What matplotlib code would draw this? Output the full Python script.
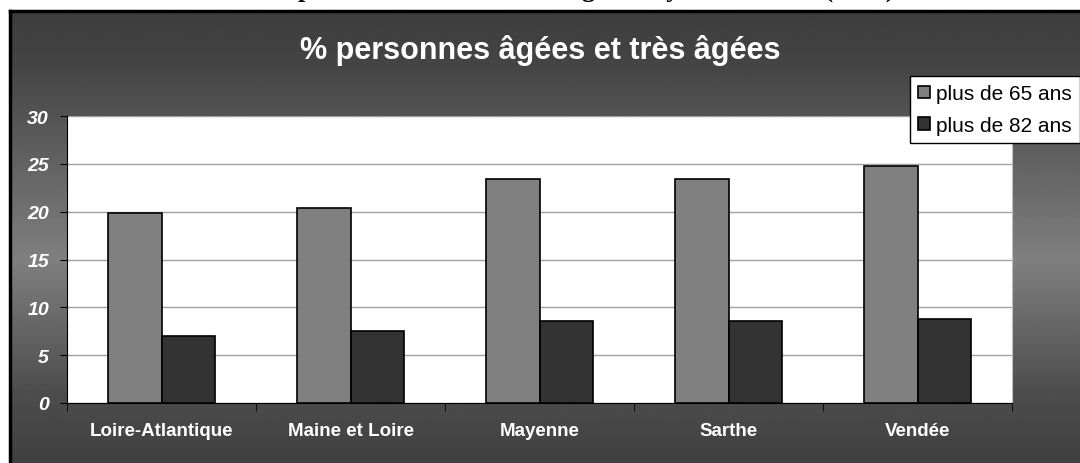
import matplotlib.pyplot as plt
import numpy as np

departements = ["Loire-Atlantique", "Maine et Loire", "Mayenne", "Sarthe", "Vendée"]
plus_65 = [19.9, 20.4, 23.4, 23.4, 24.8]
plus_82 = [7.0, 7.5, 8.6, 8.6, 8.8]
series = ["plus de 65 ans", "plus de 82 ans"]

W, H = 1080, 464
fig = plt.figure(figsize=(W / 100, H / 100), dpi=100)
fig.patch.set_facecolor("white")

# document title above the chart frame, cut off by the top edge in the source
fig.text(895 / W, 1 + 3 / H, "Le poids des aînés dans la région Pays de la Loire (2006)",
         ha="right", va="baseline", fontsize=19, fontweight="bold",
         family="Liberation Serif", color="black")

# chart frame with vertical grey gradient
bg = fig.add_axes([10 / W, 0, 1 - 10 / W, 1 - 12 / H])
t = np.linspace(0, 1, 256)
shade = np.interp(t, [0, 0.12, 0.55, 0.85, 1], [0.24, 0.27, 0.50, 0.30, 0.25])
bg.imshow(shade[:, None], aspect="auto", cmap="gray", vmin=0, vmax=1,
          extent=[0, 1, 0, 1], origin="upper")
bg.set_xlim(0, 1)
bg.set_ylim(0, 1)
bg.set_xticks([])
bg.set_yticks([])
for side in ["right", "bottom"]:
    bg.spines[side].set_visible(False)
for side in ["left", "top"]:
    bg.spines[side].set_linewidth(2.5)
    bg.spines[side].set_color("black")

fig.text(540 / W, 1 - 50 / H, "% personnes âgées et très âgées", ha="center", va="center",
         fontsize=22, fontweight="bold", family="Liberation Sans", color="white")

ax = fig.add_axes([67 / W, 60 / H, (1012 - 67) / W, (404 - 117) / H])
ax.set_facecolor("white")
x = np.arange(len(departements))
bw = 0.285
b1 = ax.bar(x - bw / 2, plus_65, bw, color="#808080", edgecolor="black", linewidth=1.2,
            label=series[0], zorder=3)
b2 = ax.bar(x + bw / 2, plus_82, bw, color="#333333", edgecolor="black", linewidth=1.2,
            label=series[1], zorder=3)

ax.set_xlim(-0.5, len(departements) - 0.5)
ax.set_ylim(0, 30)
ax.set_yticks(np.arange(0, 31, 5))
ax.yaxis.grid(True, color="#a0a0a0", linewidth=1)
ax.set_axisbelow(True)
ax.set_xticks(x)
ax.set_xticklabels(departements, fontsize=13.5, fontweight="bold", family="Liberation Sans",
                   color="white")
ax.set_xticks(np.arange(-0.5, len(departements)), minor=True)
ax.tick_params(axis="x", which="major", length=0, pad=14)
ax.tick_params(axis="x", which="minor", length=6, color="black", direction="out")
ax.tick_params(axis="y", length=5, color="black", pad=8)
for lab in ax.get_yticklabels():
    lab.set_fontsize(14)
    lab.set_fontweight("bold")
    lab.set_fontstyle("italic")
    lab.set_family("Liberation Sans")
    lab.set_color("white")
ax.spines["top"].set_visible(False)
ax.spines["right"].set_color("#c0c0c0")
ax.spines["left"].set_color("black")
ax.spines["bottom"].set_color("black")

leg = fig.legend(handles=[b1, b2], labels=series, loc="upper left",
                 bbox_to_anchor=(910 / W, 1 - 77 / H), frameon=True, fancybox=False,
                 edgecolor="black", facecolor="white", framealpha=1,
                 prop={"family": "Liberation Sans", "size": 15},
                 handlelength=0.55, handleheight=0.55, handletextpad=0.3,
                 labelspacing=0.6, borderpad=0.4, borderaxespad=0)
leg.get_frame().set_linewidth(1)

fig.savefig("out.png", dpi=100)
